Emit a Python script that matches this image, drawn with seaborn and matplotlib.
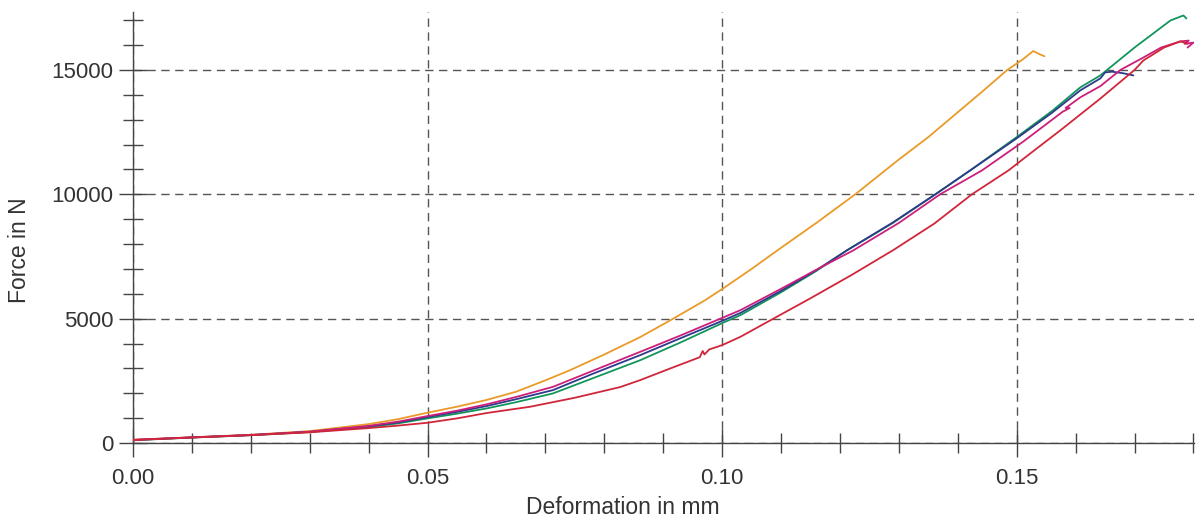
import pandas as pd
import numpy as np
import matplotlib
matplotlib.use("Agg")
import matplotlib.pyplot as plt
import seaborn as sns

# ---------------------------------------------------------------------------
# Force-deformation curves
# ---------------------------------------------------------------------------
orange_x = [0.000, 0.010, 0.020, 0.030, 0.040, 0.045, 0.050, 0.055, 0.060, 0.065, 0.070,
            0.0742, 0.080, 0.0861, 0.0917, 0.0971, 0.100, 0.105, 0.110, 0.116, 0.1226,
            0.130, 0.135, 0.140, 0.1445, 0.1484, 0.1510, 0.1528, 0.1540, 0.1547]
orange_y = [130, 230, 330, 480, 760, 960, 1220, 1460, 1730, 2060, 2520,
            2930, 3560, 4260, 5000, 5740, 6190, 7000, 7850, 8850, 10000,
            11400, 12300, 13300, 14200, 15000, 15420, 15760, 15620, 15550]

green_x = [0.000, 0.010, 0.020, 0.030, 0.040, 0.045, 0.050, 0.055, 0.060, 0.065, 0.0713,
           0.078, 0.0861, 0.093, 0.100, 0.1031, 0.110, 0.1160, 0.1212, 0.1290, 0.1362,
           0.1421, 0.1500, 0.1560, 0.1608, 0.1642, 0.1700, 0.1761, 0.1783, 0.1788]
green_y = [110, 220, 315, 440, 640, 790, 990, 1180, 1390, 1640, 1995,
           2600, 3330, 4050, 4820, 5140, 6060, 6920, 7750, 8850, 10000,
           10960, 12300, 13350, 14300, 14780, 15900, 16990, 17190, 17070]

blue_x = [0.000, 0.010, 0.020, 0.030, 0.040, 0.045, 0.050, 0.055, 0.060, 0.065, 0.0713,
          0.078, 0.0861, 0.093, 0.100, 0.1031, 0.110, 0.1160, 0.1212, 0.1290, 0.1362,
          0.1421, 0.1500, 0.1560, 0.1608, 0.1642, 0.1650, 0.1662, 0.1680, 0.1698]
blue_y = [120, 225, 320, 450, 670, 830, 1044, 1250, 1486, 1760, 2128,
          2780, 3534, 4220, 4910, 5230, 6120, 6950, 7750, 8870, 10000,
          10960, 12250, 13280, 14180, 14660, 14900, 14930, 14870, 14780]

magenta_x = [0.000, 0.010, 0.020, 0.030, 0.040, 0.045, 0.050, 0.055, 0.060, 0.065, 0.0713,
             0.078, 0.0861, 0.093, 0.0997, 0.1031, 0.110, 0.1160, 0.1223, 0.130, 0.137,
             0.1441, 0.1510, 0.1578, 0.1590, 0.1583, 0.1608, 0.1642, 0.1676, 0.1715,
             0.1745, 0.1778, 0.1792, 0.1785, 0.1800, 0.1790]
magenta_y = [130, 228, 325, 455, 690, 860, 1084, 1300, 1554, 1850, 2260,
             2900, 3667, 4330, 5000, 5341, 6200, 6970, 7750, 8850, 10000,
             10960, 12100, 13320, 13470, 13470, 13900, 14350, 15000, 15500,
             15900, 16150, 16180, 16050, 16100, 15900]

red_x = [0.000, 0.010, 0.020, 0.030, 0.040, 0.045, 0.050, 0.055, 0.060, 0.0674, 0.075,
         0.0827, 0.0861, 0.091, 0.0962, 0.0967, 0.0970, 0.0978, 0.100, 0.1031, 0.1087,
         0.115, 0.122, 0.129, 0.136, 0.1424, 0.1486, 0.1530, 0.1574, 0.1642, 0.170,
         0.1715, 0.175, 0.1778, 0.1790]
red_y = [120, 220, 315, 430, 600, 700, 815, 990, 1205, 1458, 1820,
         2250, 2530, 2980, 3450, 3700, 3560, 3760, 3935, 4270, 5000,
         5820, 6760, 7750, 8820, 10000, 10960, 11770, 12570, 13850, 15000,
         15380, 15900, 16150, 16050]

series = {
    "orange": (orange_x, orange_y),
    "green": (green_x, green_y),
    "blue": (blue_x, blue_y),
    "magenta": (magenta_x, magenta_y),
    "red": (red_x, red_y),
}
palette = {
    "orange": "#EA9A28",
    "green": "#11955A",
    "blue": "#2E3A8C",
    "magenta": "#CC1F7A",
    "red": "#D1263A",
}

rows = []
for name, (xs, ys) in series.items():
    for i, (xv, yv) in enumerate(zip(xs, ys)):
        rows.append({"curve": name, "step": i, "deformation": xv, "force": yv})
df = pd.DataFrame(rows)

# ---------------------------------------------------------------------------
# Plot
# ---------------------------------------------------------------------------
sns.set_theme(style="white")
plt.rcParams["font.family"] = ["Liberation Sans", "DejaVu Sans"]

fig = plt.figure(figsize=(11.98, 5.19), dpi=100)
ax = fig.add_axes([0.111, 0.1464, 0.8857, 0.8305])

for name in series:
    sub = df[df["curve"] == name]
    sns.lineplot(data=sub, x="deformation", y="force", color=palette[name],
                 estimator=None, sort=False, linewidth=1.3, ax=ax, zorder=3)

ax.set_xlim(0, 0.1801)
ax.set_ylim(0, 17330)
ax.set_xticks([0.0, 0.05, 0.10, 0.15])
ax.set_xticklabels(["0.00", "0.05", "0.10", "0.15"])
ax.set_xticks(np.arange(0.01, 0.181, 0.01), minor=True)
ax.set_yticks([0, 5000, 10000, 15000])
ax.set_yticks(np.arange(1000, 17001, 1000), minor=True)

axis_col = "#444444"
for side in ["top", "right"]:
    ax.spines[side].set_visible(False)
for side in ["left", "bottom"]:
    ax.spines[side].set_color(axis_col)
    ax.spines[side].set_linewidth(1.0)

ax.tick_params(which="both", bottom=True, left=True, top=False, right=False)
ax.tick_params(which="major", direction="inout", length=20, width=1.0,
               color=axis_col, labelsize=16, labelcolor="#333333", pad=8)
ax.tick_params(which="minor", direction="inout", length=15, width=1.0, color=axis_col)
ax.tick_params(axis="y", which="major", pad=4)

ax.grid(True, which="major", color="#555555", linestyle=(0, (6, 4)), linewidth=1.0)
ax.set_axisbelow(True)

ax.set_xlabel("Deformation in mm", fontsize=16.5, color="#333333")
ax.set_ylabel("Force in N", fontsize=16.5, color="#333333")
ax.xaxis.set_label_coords(0.462, -0.1485)
ax.yaxis.set_label_coords(-0.1074, 0.448)
ax.xaxis.label.set_va("center")
ax.yaxis.label.set_va("center")

fig.savefig("out.png", dpi=100)
